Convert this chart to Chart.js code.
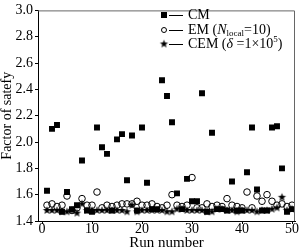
<!DOCTYPE html>
<html>
<head>
<meta charset="utf-8">
<script src="https://cdn.jsdelivr.net/npm/chart.js@4.4.1/dist/chart.umd.min.js"></script>
<style>
  html, body { margin: 0; padding: 0; background: #fff; }
</style>
</head>
<body>
<canvas id="scatterChart" width="300" height="248"></canvas>
<script>
// run numbers 1..50
const runs = [1,2,3,4,5,6,7,8,9,10,11,12,13,14,15,16,17,18,19,20,21,22,23,24,25,
  26,27,28,29,30,31,32,33,34,35,36,37,38,39,40,41,42,43,44,45,46,47,48,49,50];

// factor of safety
const cmValues = [1.63,2.10,2.13,1.47,1.62,1.49,1.52,1.86,1.48,1.47,
  2.11,1.96,1.91,1.48,2.02,2.06,1.71,2.05,1.48,2.11,
  1.69,1.49,1.49,2.47,2.35,2.15,1.61,1.49,1.72,1.55,
  1.55,2.37,1.47,2.07,1.49,1.49,1.48,1.70,1.48,1.48,
  1.77,2.11,1.64,1.48,1.48,2.11,2.12,1.80,1.47,1.49];
const emValues = [1.52,1.53,1.51,1.52,1.59,1.48,1.50,1.57,1.52,1.52,
  1.62,1.50,1.52,1.51,1.52,1.53,1.53,1.53,1.55,1.52,
  1.52,1.53,1.51,1.50,1.52,1.60,1.52,1.51,1.52,1.73,
  1.50,1.50,1.53,1.51,1.52,1.51,1.57,1.52,1.51,1.50,
  1.62,1.50,1.59,1.55,1.60,1.55,1.52,1.53,1.51,1.52];
const cemValues = [1.48,1.48,1.48,1.47,1.47,1.48,1.46,1.53,1.48,1.48,
  1.48,1.48,1.48,1.48,1.48,1.48,1.47,1.52,1.47,1.48,
  1.48,1.48,1.48,1.48,1.47,1.47,1.49,1.49,1.48,1.48,
  1.48,1.48,1.47,1.47,1.49,1.49,1.48,1.48,1.47,1.48,
  1.48,1.48,1.47,1.48,1.48,1.49,1.50,1.58,1.48,1.49];

const xTicks = [0, 10, 20, 30, 40, 50];
const yTicks = [1.4, 1.6, 1.8, 2.0, 2.2, 2.4, 2.6, 2.8, 3.0];

const serif = '"Liberation Serif", "Times New Roman", serif';

// filled five point star used as marker
function makeStar(r) {
  const c = document.createElement('canvas');
  c.width = c.height = Math.ceil(r * 2 + 2);
  const g = c.getContext('2d');
  const cx = c.width / 2, cy = c.height / 2;
  g.beginPath();
  for (let i = 0; i < 10; i++) {
    const rad = i % 2 === 0 ? r : r * 0.42;
    const a = -Math.PI / 2 + i * Math.PI / 5;
    g.lineTo(cx + rad * Math.cos(a), cy + rad * Math.sin(a));
  }
  g.closePath();
  g.fillStyle = '#000';
  g.fill();
  return c;
}
const starImg = makeStar(4.3);

const toPoints = vals => runs.map((r, i) => ({ x: r, y: vals[i] }));

// frame, x title + legend
const extras = {
  id: 'extras',
  afterDraw(chart) {
    const ctx = chart.ctx;
    const a = chart.chartArea;
    ctx.save();
    ctx.strokeStyle = '#666';
    ctx.lineWidth = 1;
    ctx.beginPath();
    ctx.moveTo(a.left, a.top + 0.5);
    ctx.lineTo(a.right - 0.5, a.top + 0.5);
    ctx.lineTo(a.right - 0.5, a.bottom);
    ctx.stroke();

    ctx.fillStyle = '#000';
    ctx.textAlign = 'center';
    ctx.textBaseline = 'middle';
    ctx.font = '15px ' + serif;
    ctx.fillText('Run number', (a.left + a.right) / 2, 243.5);

    const mx = 164, lx1 = 169, lx2 = 183, tx = 188;
    const rows = [15, 30, 44];
    ctx.strokeStyle = '#000';
    rows.forEach(y => {
      ctx.beginPath();
      ctx.moveTo(lx1, y + 0.5);
      ctx.lineTo(lx2, y + 0.5);
      ctx.stroke();
    });
    // markers
    ctx.fillRect(mx - 3, rows[0] - 3, 6, 6);
    ctx.beginPath();
    ctx.arc(mx, rows[1], 2.5, 0, Math.PI * 2);
    ctx.stroke();
    ctx.drawImage(starImg, mx - starImg.width / 2, rows[2] - starImg.height / 2);

    ctx.textAlign = 'left';
    const normal = '14px ' + serif, ital = 'italic 14px ' + serif, small = '9px ' + serif;
    function put(txt, font, x, y) {
      ctx.font = font;
      ctx.fillText(txt, x, y);
      return x + ctx.measureText(txt).width;
    }
    put('CM', normal, tx, rows[0]);
    let x = put('EM (', normal, tx, rows[1]);
    x = put('N', ital, x, rows[1]);
    x = put('local', small, x, rows[1] + 4);
    put('=10)', normal, x, rows[1]);
    x = put('CEM (', normal, tx, rows[2]);
    x = put('\u03B4', ital, x, rows[2]);
    x = put(' =1\u00D710', normal, x, rows[2]);
    x = put('5', small, x, rows[2] - 4);
    put(')', normal, x, rows[2]);
    ctx.restore();
  }
};

const ctx = document.getElementById('scatterChart').getContext('2d');
new Chart(ctx, {
  type: 'scatter',
  data: {
    datasets: [
      {
        label: 'CEM',
        data: toPoints(cemValues),
        pointStyle: starImg,
        pointRadius: 4
      },
      {
        label: 'EM',
        data: toPoints(emValues),
        pointStyle: 'circle',
        pointRadius: 3.3,
        borderColor: '#000',
        borderWidth: 1,
        backgroundColor: 'rgba(0,0,0,0)'
      },
      {
        label: 'CM',
        data: toPoints(cmValues),
        pointStyle: 'rect',
        pointRadius: 4.2,
        borderWidth: 0,
        backgroundColor: '#000'
      }
    ]
  },
  options: {
    responsive: false,
    animation: false,
    events: [],
    layout: { padding: { top: 5, right: 3, left: 0, bottom: 0 } },
    plugins: { legend: { display: false }, tooltip: { enabled: false } },
    scales: {
      x: {
        type: 'linear',
        position: 'bottom',
        min: -0.8,
        max: 50.6,
        afterBuildTicks: s => { s.ticks = xTicks.map(v => ({ value: v })); },
        afterFit: s => { s.height = 27; },
        grid: { drawOnChartArea: false, drawTicks: true, tickLength: 3, color: '#000' },
        border: { color: '#000', width: 1 },
        ticks: { color: '#000', padding: -3, maxRotation: 0, font: { family: serif, size: 14 } }
      },
      y: {
        type: 'linear',
        position: 'left',
        min: 1.4,
        max: 3.0,
        afterBuildTicks: s => { s.ticks = yTicks.map(v => ({ value: v })); },
        afterFit: s => { s.width = 38; },
        grid: { drawOnChartArea: false, drawTicks: true, tickLength: 3, color: '#000' },
        border: { color: '#000', width: 1 },
        ticks: { color: '#000', padding: 2, font: { family: serif, size: 14 },
          callback: v => v.toFixed(1) },
        title: { display: true, text: 'Factor of satefy', color: '#000', padding: 0,
          font: { family: serif, size: 14, lineHeight: 1.1 } }
      }
    }
  },
  plugins: [extras]
});
</script>
</body>
</html>
